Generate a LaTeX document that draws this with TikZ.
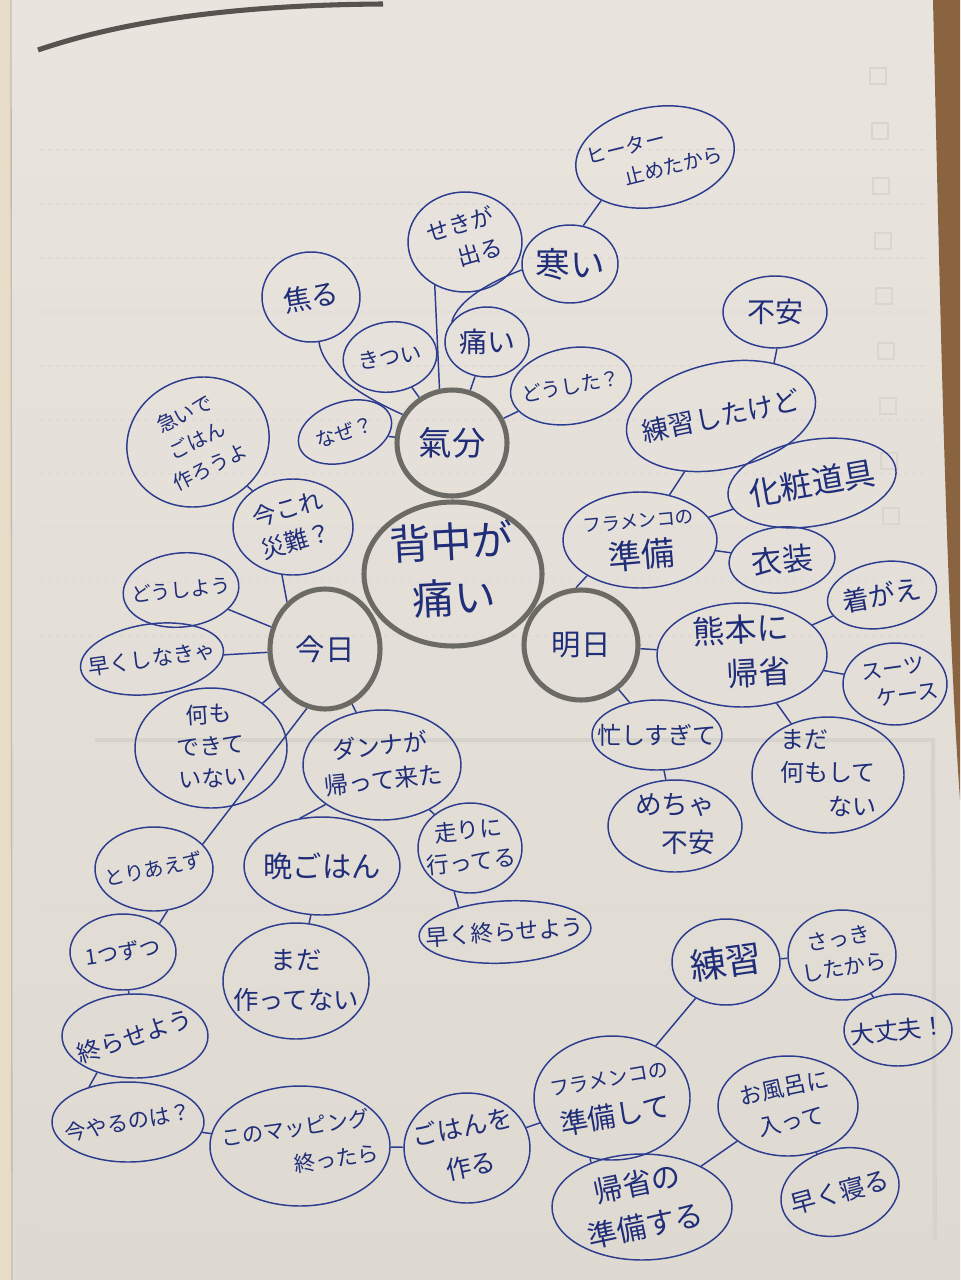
\documentclass[tikz,border=0pt]{standalone}
\usepackage{fontspec}
\usepackage{graphicx}
\newfontfamily\jp{Noto Sans CJK JP}
\usetikzlibrary{shapes.geometric}
\pgfdeclarelayer{paperlayer}
\pgfdeclarelayer{linklayer}
\pgfsetlayers{paperlayer,linklayer,main}
\definecolor{papert}{RGB}{233,229,222}
\definecolor{paperb}{RGB}{222,218,210}
\definecolor{ink}{RGB}{44,60,142}
\definecolor{inktext}{RGB}{32,45,120}
\definecolor{ring}{RGB}{108,106,100}
\definecolor{wood}{RGB}{138,100,64}
\definecolor{faint}{RGB}{218,213,206}
\definecolor{rule}{RGB}{224,219,212}
\definecolor{strip}{RGB}{232,220,200}
\definecolor{topline}{RGB}{88,83,78}
\definecolor{showthru}{RGB}{214,210,204}
\newcommand\sz[2]{\fontsize{#1}{#2}\selectfont}
\newcommand\tc[1]{\begin{tabular}{@{}c@{}}#1\end{tabular}}
\newcommand\tl[1]{\begin{tabular}{@{}l@{}}#1\end{tabular}}
\begin{document}
\begin{tikzpicture}[x=0.75pt,y=-0.75pt,
  bub/.style 2 args={ellipse, draw=ink, line width=1.1pt, minimum width=1.5pt*#1, minimum height=1.5pt*#2, inner sep=0pt},
  hub/.style 2 args={ellipse, draw=ring, line width=3.8pt, minimum width=1.5pt*#1, minimum height=1.5pt*#2, inner sep=0pt},
  lab/.style={inner sep=0pt, text=inktext},
  link/.style={draw=ink, line width=1.1pt},
  faintbox/.style={draw=faint, line width=1.5pt},
]
\useasboundingbox (0,0) rectangle (960,1280);
\begin{pgfonlayer}{paperlayer}
  \shade[top color=papert, bottom color=paperb] (0,0) rectangle (960,1280);
  \fill[strip] (0,0) rectangle (11,1280);
  \draw[draw={rgb,255:red,196;green,188;blue,176}, line width=1pt] (11,0) -- (12,1280);
  \foreach \k in {0,...,20} {
    \draw[rule, line width=0.8pt, dash pattern=on 3pt off 3pt] (40,150+54*\k) -- (925,150+54*\k);
  }
  \foreach \k in {0,...,8} {
    \draw[faintbox] (870+1.6*\k,68+55*\k) rectangle ++(16,16);
  }
  \draw[showthru, line width=3pt] (95,740) -- (933,740) -- (935,1240);
  \fill[wood] (933,0) .. controls (940,300) and (946,600) .. (960,800) -- (960,0) -- cycle;
  \draw[topline, line width=3.8pt] (38,50) .. controls (120,22) and (230,5) .. (383,4);
\end{pgfonlayer}

% ---------- shapes ----------
% hubs
\node[hub={89}{72}] (core) at (453,574) {};
\node[hub={55}{53}] (kibun) at (452,443) {};
\node[hub={55}{60}] (kyo) at (325,649) {};
\node[hub={57}{55}] (asu) at (581,645) {};
% kibun branch
\node[bub={80}{50}, rotate=10] (heater) at (655,157) {};
\node[bub={48}{39}] (samui) at (570,264) {};
\node[bub={57}{50}] (seki) at (465,242) {};
\node[bub={49}{45}] (aseru) at (311,297) {};
\node[bub={47}{35}, rotate=8] (kitsui) at (390,357) {};
\node[bub={42}{35}] (itai) at (487,342) {};
\node[bub={61}{38}, rotate=10] (doshita) at (571,386) {};
\node[bub={48}{30}, rotate=18] (naze) at (345,432) {};
% kyo branch
\node[bub={72}{64}, rotate=20] (isoide) at (198,442) {};
\node[bub={60}{48}] (imakore) at (293,527) {};
\node[bub={58}{37}, rotate=6] (doshiyo) at (181,590) {};
\node[bub={72}{35}, rotate=8] (hayaku) at (152,659) {};
\node[bub={76}{60}] (nanimo) at (211,748) {};
\node[bub={59}{42}] (toriaezu) at (154,869) {};
\node[bub={79}{55}] (danna) at (382,765) {};
\node[bub={78}{49}] (ban) at (322,866) {};
\node[bub={52}{45}] (hashiri) at (470,848) {};
\node[bub={73}{58}] (mada1) at (296,981) {};
\node[bub={86}{31}, rotate=3] (hayakuowa) at (505,932) {};
\node[bub={53}{38}] (hitotsu) at (123,952) {};
\node[bub={73}{42}] (owarase) at (135,1036) {};
\node[bub={76}{40}] (imayaru) at (128,1122) {};
\node[bub={90}{60}] (mapping) at (300,1146) {};
\node[bub={63}{55}] (gohan) at (467,1148) {};
\node[bub={78}{62}] (flam2) at (612,1098) {};
\node[bub={54}{43}] (renshu2) at (726,962) {};
\node[bub={54}{45}] (sakki) at (842,955) {};
\node[bub={54}{36}] (daijobu) at (898,1030) {};
\node[bub={90}{53}] (kisei2) at (642,1207) {};
\node[bub={70}{50}] (ofuro) at (788,1106) {};
\node[bub={60}{43}, rotate=15] (hayane) at (840,1192) {};
% asu branch
\node[bub={77}{48}] (flam1) at (640,540) {};
\node[bub={96}{53}, rotate=12] (renshu1) at (721,416) {};
\node[bub={52}{36}] (fuan) at (775,312) {};
\node[bub={85}{43}, rotate=10] (kesho) at (812,483) {};
\node[bub={53}{33}, rotate=5] (isho) at (782,560) {};
\node[bub={85}{52}] (kuma) at (742,655) {};
\node[bub={55}{33}, rotate=10] (kigae) at (882,595) {};
\node[bub={52}{41}] (suit) at (895,684) {};
\node[bub={76}{58}] (mada2) at (828,775) {};
\node[bub={65}{35}] (isoga) at (657,735) {};
\node[bub={67}{46}] (mecha) at (675,826) {};

% ---------- texts ----------
\node[lab, rotate=3, font=\jp\sz{31}{42}] (coret) at (core) {\tc{背中が\\痛い}};
\node[lab, font=\jp\sz{25}{30}] (kibunt) at (kibun) {氣分};
\node[lab, font=\jp\sz{22}{26}] (kyot) at (kyo) {今日};
\node[lab, font=\jp\sz{22}{26}] (asut) at (asu) {明日};

\node[lab, rotate=14, font=\jp\sz{15}{22}] (heatert) at (heater) {\tl{ヒーター\\\hspace{1.6em}止めたから}};
\node[lab, font=\jp\sz{26}{30}] (samuit) at (samui) {寒い};
\node[lab, rotate=16, font=\jp\sz{17}{24}] (sekit) at (seki) {\tc{せきが\\\hspace{1em}出る}};
\node[lab, rotate=10, font=\jp\sz{21}{24}] (aserut) at (aseru) {焦る};
\node[lab, rotate=8, font=\jp\sz{16}{20}] (kitsuit) at (kitsui) {きつい};
\node[lab, font=\jp\sz{21}{25}] (itait) at (itai) {痛い};
\node[lab, rotate=10, font=\jp\sz{15}{20}] (doshitat) at (doshita) {どうした？};
\node[lab, rotate=18, font=\jp\sz{15}{20}] (nazet) at (naze) {なぜ？};

\node[lab, rotate=26, font=\jp\sz{15}{22}] (isoidet) at (isoide) {\tc{急いで\\ごはん\\作ろうよ}};
\node[lab, rotate=16, font=\jp\sz{18}{25}] (imakoret) at (imakore) {\tc{今これ\\災難？}};
\node[lab, rotate=6, font=\jp\sz{15}{18}] (doshiyot) at (doshiyo) {どうしよう};
\node[lab, rotate=8, font=\jp\sz{16}{18}] (hayakut) at (hayaku) {早くしなきゃ};
\node[lab, rotate=4, font=\jp\sz{17}{24}] (nanimot) at (nanimo) {\tc{何も\\できて\\いない}};
\node[lab, rotate=12, font=\jp\sz{15}{18}] (toriaezut) at (toriaezu) {とりあえず};
\node[lab, rotate=6, font=\jp\sz{18}{26}] (dannat) at (danna) {\tc{ダンナが\\帰って来た}};
\node[lab, font=\jp\sz{22}{25}] (bant) at (ban) {晩ごはん};
\node[lab, rotate=6, font=\jp\sz{17}{24}] (hashirit) at (hashiri) {\tc{走りに\\行ってる}};
\node[lab, font=\jp\sz{19}{30}] (mada1t) at (mada1) {\tc{まだ\\作ってない}};
\node[lab, rotate=4, font=\jp\sz{17}{20}] (hayakuowat) at (hayakuowa) {早く終らせよう};
\node[lab, rotate=8, font=\jp\sz{16}{18}] (hitotsut) at (hitotsu) {1つずつ};
\node[lab, rotate=18, font=\jp\sz{18}{20}] (owaraset) at (owarase) {終らせよう};
\node[lab, rotate=10, font=\jp\sz{16}{18}] (imayarut) at (imayaru) {今やるのは？};
\node[lab, rotate=8, font=\jp\sz{16}{27}] (mappingt) at (mapping) {\tl{このマッピング\\\hspace{3.2em}終ったら}};
\node[lab, rotate=12, font=\jp\sz{19}{30}] (gohant) at (gohan) {\tc{ごはんを\\作る}};
\node[lab, rotate=10, font=\jp\sz{21}{30}] (flam2t) at (flam2) {\tc{{\sz{15}{18}フラメンコの}\\準備して}};
\node[lab, rotate=8, font=\jp\sz{27}{30}] (renshu2t) at (renshu2) {練習};
\node[lab, rotate=10, font=\jp\sz{16}{22}] (sakkit) at (sakki) {\tc{さっき\\したから}};
\node[lab, rotate=6, font=\jp\sz{18}{22}] (daijobut) at (daijobu) {大丈夫！};
\node[lab, rotate=12, font=\jp\sz{22}{32}] (kisei2t) at (kisei2) {\tc{帰省の\\準備する}};
\node[lab, rotate=12, font=\jp\sz{17}{26}] (ofurot) at (ofuro) {\tc{お風呂に\\入って}};
\node[lab, rotate=15, font=\jp\sz{19}{22}] (hayanet) at (hayane) {早く寝る};

\node[lab, rotate=5, font=\jp\sz{25}{30}] (flam1t) at (flam1) {\tc{{\sz{14}{17}フラメンコの}\\準備}};
\node[lab, rotate=12, font=\jp\sz{20}{22}] (renshu1t) at (renshu1) {練習したけど};
\node[lab, font=\jp\sz{21}{24}] (fuant) at (fuan) {不安};
\node[lab, rotate=10, font=\jp\sz{24}{26}] (keshot) at (kesho) {化粧道具};
\node[lab, rotate=5, font=\jp\sz{23}{25}] (ishot) at (isho) {衣装};
\node[lab, rotate=3, font=\jp\sz{24}{33}] (kumat) at (kuma) {\tc{熊本に\\\hspace{1em}帰省}};
\node[lab, rotate=10, font=\jp\sz{20}{22}] (kigaet) at (kigae) {着がえ};
\node[lab, rotate=8, font=\jp\sz{16}{21}] (suitt) at (suit) {\tc{スーツ\\\hspace{1em}ケース}};
\node[lab, font=\jp\sz{18}{25}] (mada2t) at (mada2) {\tl{まだ\\何もして\\\hspace{2em}ない}};
\node[lab, font=\jp\sz{18}{22}] (isogat) at (isoga) {忙しすぎて};
\node[lab, font=\jp\sz{20}{28}] (mechat) at (mecha) {\tc{めちゃ\\\hspace{1em}不安}};

% ---------- connectors ----------
\begin{pgfonlayer}{linklayer}
\draw[link] (samui.71) -- (heater.209);
\draw[link] (seki.235) -- (kibun.103);
\draw[link] (samui.187) .. controls (490,282) and (458,300) .. (itai.150);
\draw[link] (aseru.280) .. controls (323,368) and (352,392) .. (kibun.150);
\draw[link] (kitsui) -- (kibun);
\draw[link] (itai) -- (kibun);
\draw[link] (doshita) -- (kibun);
\draw[link] (naze) -- (kibun);
\draw[link] (isoide) -- (imakore);
\draw[link] (imakore.257) -- (kyo.129);
\draw[link] (kyo) -- (doshiyo);
\draw[link] (kyo) -- (hayaku);
\draw[link] (kyo) -- (nanimo);
\draw[link] (kyo.253) -- (toriaezu.27);
\draw[link] (kyo) -- (danna);
\draw[link] (danna.215) -- (ban.115);
\draw[link] (danna) -- (hashiri);
\draw[link] (ban) -- (mada1);
\draw[link] (hashiri.250) -- (hayakuowa.149);
\draw[link] (toriaezu.288) -- (hitotsu.38);
\draw[link] (hitotsu) -- (owarase);
\draw[link] (owarase.224) -- (imayaru.138);
\draw[link] (imayaru) -- (mapping);
\draw[link] (mapping) -- (gohan);
\draw[link] (gohan) -- (flam2);
\draw[link] (flam2) -- (renshu2);
\draw[link] (renshu2) -- (sakki);
\draw[link] (sakki) -- (daijobu);
\draw[link] (flam2.250) -- (kisei2.139);
\draw[link] (kisei2) -- (ofuro);
\draw[link] (ofuro) -- (hayane);
\draw[link] (asu.95) -- (flam1.214);
\draw[link] (flam1) -- (renshu1);
\draw[link] (renshu1.33) -- (fuan.273);
\draw[link] (flam1) -- (kesho);
\draw[link] (flam1) -- (isho);
\draw[link] (asu) -- (kuma);
\draw[link] (kuma) -- (kigae);
\draw[link] (kuma) -- (suit);
\draw[link] (kuma) -- (mada2);
\draw[link] (asu) -- (isoga);
\draw[link] (isoga) -- (mecha);
\end{pgfonlayer}
\end{tikzpicture}
\end{document}
